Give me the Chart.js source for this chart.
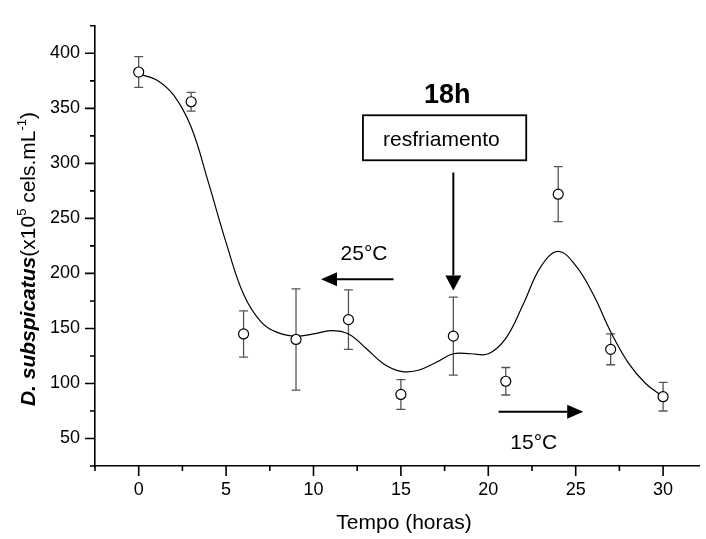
<!DOCTYPE html>
<html>
<head>
<meta charset="utf-8">
<script src="https://cdn.jsdelivr.net/npm/chart.js@4.4.1/dist/chart.umd.min.js"></script>
<style>
  html, body { margin: 0; padding: 0; background: #fff; }
  #wrap { width: 706px; height: 539px; }
</style>
</head>
<body>
<div id="wrap"><canvas id="cells" width="706" height="539"></canvas></div>
<script>
// sampling times (h) and mean density of D. subspicatus (x10^5 cels/mL) with std. deviation
const hours = [0, 3, 6, 9, 12, 15, 18, 21, 24, 27, 30];
const density = [383, 356, 145, 140, 158, 90, 143, 102, 272, 131, 88];
const densityErr = [14, 8.5, 21, 46, 27, 13.5, 35.5, 12.5, 25, 14, 13];

// fitted curve, read hour by hour
const fitHours = [0, 1, 2, 3, 4, 5, 6, 7, 8, 9, 10, 11, 12, 13, 14, 15,
                  16, 17, 18, 19, 20, 21, 22, 23, 24, 25, 26, 27, 28, 29, 30];
const fitDensity = [381, 376, 362, 333, 282, 228, 181, 156, 146, 143, 145, 148, 145, 132, 118, 111,
                    112, 119, 127, 127, 127, 141, 172, 206, 220, 207, 181, 147, 119, 100, 88];

const xTicks = [-2.5, 0, 2.5, 5, 7.5, 10, 12.5, 15, 17.5, 20, 22.5, 25, 27.5, 30];
const yTicks = [25, 50, 75, 100, 125, 150, 175, 200, 225, 250, 275, 300, 325, 350, 375, 400, 425];

const FONT = "'Liberation Sans', Arial, Helvetica, sans-serif";

function arrow(ctx, x1, y1, x2, y2, head, half) {
  const ang = Math.atan2(y2 - y1, x2 - x1);
  const bx = x2 - head * Math.cos(ang), by = y2 - head * Math.sin(ang);
  ctx.beginPath();
  ctx.moveTo(x1, y1);
  ctx.lineTo(bx, by);
  ctx.stroke();
  ctx.beginPath();
  ctx.moveTo(x2, y2);
  ctx.lineTo(bx + half * Math.sin(ang), by - half * Math.cos(ang));
  ctx.lineTo(bx - half * Math.sin(ang), by + half * Math.cos(ang));
  ctx.closePath();
  ctx.fill();
}

// major / minor tick marks, drawn outside the axes
const axisTicks = {
  id: 'axisTicks',
  afterDraw(chart) {
    const { ctx, chartArea: a, scales: { x, y } } = chart;
    ctx.save();
    ctx.strokeStyle = '#000';
    ctx.lineWidth = 1.6;
    ctx.beginPath();
    xTicks.forEach(v => {
      const px = x.getPixelForValue(v);
      ctx.moveTo(px, a.bottom);
      ctx.lineTo(px, a.bottom + (v % 5 === 0 ? 10 : 5));
    });
    yTicks.forEach(v => {
      const py = y.getPixelForValue(v);
      ctx.moveTo(a.left, py);
      ctx.lineTo(a.left - (v % 50 === 0 ? 10 : 5), py);
    });
    ctx.stroke();
    ctx.restore();
  }
};

// vertical error bars with caps, under the markers
const errorBars = {
  id: 'errorBars',
  beforeDatasetsDraw(chart) {
    const { ctx, scales: { x, y } } = chart;
    ctx.save();
    ctx.strokeStyle = '#555';
    ctx.lineWidth = 1.3;
    ctx.beginPath();
    hours.forEach((h, i) => {
      const px = x.getPixelForValue(h);
      const top = y.getPixelForValue(density[i] + densityErr[i]);
      const bot = y.getPixelForValue(density[i] - densityErr[i]);
      ctx.moveTo(px, top); ctx.lineTo(px, bot);
      ctx.moveTo(px - 4.5, top); ctx.lineTo(px + 4.5, top);
      ctx.moveTo(px - 4.5, bot); ctx.lineTo(px + 4.5, bot);
    });
    ctx.stroke();
    ctx.restore();
  }
};

// annotations: cooling at 18 h, temperature arrows, axis titles
const notes = {
  id: 'notes',
  afterDraw(chart) {
    const { ctx, scales: { x, y } } = chart;
    const X = v => x.getPixelForValue(v), Y = v => y.getPixelForValue(v);
    ctx.save();
    ctx.fillStyle = '#000';
    ctx.strokeStyle = '#000';

    ctx.textAlign = 'center';
    ctx.textBaseline = 'alphabetic';
    ctx.font = 'bold 27px ' + FONT;
    ctx.fillText('18h', X(17.65), Y(354.5));

    ctx.lineWidth = 1.8;
    ctx.strokeRect(X(12.83), Y(343.7), X(22.17) - X(12.83), Y(302.8) - Y(343.7));
    ctx.font = '21px ' + FONT;
    ctx.fillText('resfriamento', X(17.32), Y(315.7));

    ctx.lineWidth = 2;
    arrow(ctx, X(18), Y(291.7), X(18), Y(184.5), 15, 8);

    ctx.fillText('25°C', X(12.89), Y(211.8));
    arrow(ctx, X(14.58), Y(194.8), X(10.43), Y(194.8), 16, 7);

    ctx.fillText('15°C', X(22.6), Y(40.6));
    arrow(ctx, X(20.59), Y(74.3), X(25.43), Y(74.3), 16, 7);

    ctx.fillText('Tempo (horas)', 404, 529);

    // y title with italic species name and superscripts
    const parts = [
      ['D. subspicatus', 'italic bold 21px ' + FONT, 0],
      ['(x10', '21px ' + FONT, 0],
      ['5', '13px ' + FONT, 9],
      [' cels.mL', '21px ' + FONT, 0],
      ['-1', '13px ' + FONT, 9],
      [')', '21px ' + FONT, 0]
    ];
    let total = 0;
    parts.forEach(([t, f]) => { ctx.font = f; total += ctx.measureText(t).width; });
    ctx.translate(35, 259);
    ctx.rotate(-Math.PI / 2);
    ctx.textAlign = 'left';
    let cx = -total / 2;
    parts.forEach(([t, f, rise]) => {
      ctx.font = f;
      ctx.fillText(t, cx, -rise);
      cx += ctx.measureText(t).width;
    });
    ctx.restore();
  }
};

new Chart(document.getElementById('cells'), {
  type: 'scatter',
  data: {
    datasets: [
      {
        type: 'line',
        data: fitHours.map((h, i) => ({ x: h, y: fitDensity[i] })),
        borderColor: '#000',
        borderWidth: 1.2,
        pointRadius: 0,
        fill: false,
        tension: 0.4,
        order: 2
      },
      {
        type: 'scatter',
        data: hours.map((h, i) => ({ x: h, y: density[i] })),
        pointRadius: 5,
        pointBackgroundColor: '#fff',
        pointBorderColor: '#000',
        pointBorderWidth: 1.2,
        order: 1
      }
    ]
  },
  options: {
    responsive: false,
    animation: false,
    devicePixelRatio: 1,
    layout: { padding: { top: 12, right: 0, left: 0, bottom: 0 } },
    plugins: { legend: { display: false }, tooltip: { enabled: false } },
    scales: {
      x: {
        type: 'linear',
        min: -2.5,
        max: 32.1,
        afterFit: s => { s.height = 73; },
        afterBuildTicks: s => { s.ticks = xTicks.map(v => ({ value: v })); },
        grid: { display: false, drawTicks: false },
        border: { display: true, color: '#000', width: 1.6 },
        ticks: {
          padding: 13, color: '#000', maxRotation: 0, autoSkip: false,
          font: { family: FONT, size: 18 },
          callback: v => (v % 5 === 0 ? String(v) : '')
        }
      },
      y: {
        type: 'linear',
        min: 25,
        max: 425,
        afterFit: s => { s.width = 95; },
        afterBuildTicks: s => { s.ticks = yTicks.map(v => ({ value: v })); },
        grid: { display: false, drawTicks: false },
        border: { display: true, color: '#000', width: 1.6 },
        ticks: {
          padding: 15, color: '#000', autoSkip: false,
          font: { family: FONT, size: 18 },
          callback: v => (v % 50 === 0 ? String(v) : '')
        }
      }
    }
  },
  plugins: [axisTicks, errorBars, notes]
});
</script>
</body>
</html>
